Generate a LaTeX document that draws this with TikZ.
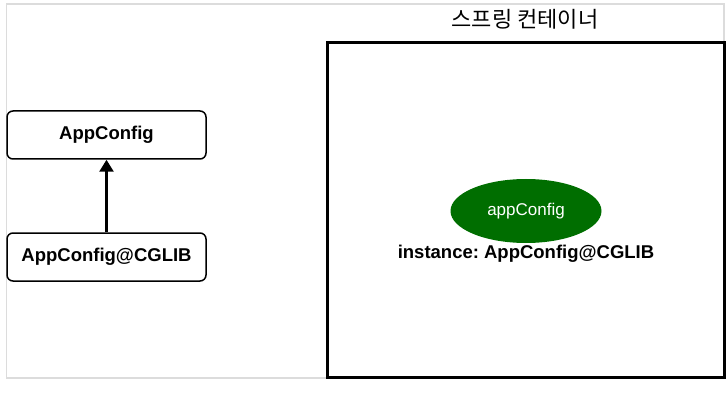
\documentclass[tikz,border=0pt]{standalone}
\usepackage{fontspec}
\setmainfont{Liberation Sans}
\newfontfamily\krfont{Noto Sans CJK KR}
\usepackage{xcolor}
\definecolor{sprgreen}{HTML}{006E00}
\definecolor{framegray}{HTML}{DCDCDC}
\usetikzlibrary{arrows.meta,positioning,shapes.geometric}
\frenchspacing

\begin{document}
\begin{tikzpicture}[x=1pt,y=-1pt,
  cls/.style={draw=black, line width=1.5pt, rounded corners=6pt, fill=white,
              minimum width=199pt, minimum height=48pt,
              font=\fontsize{18.5}{22}\selectfont\bfseries},
  bean/.style={ellipse, fill=sprgreen, text=white, minimum width=151pt,
               minimum height=64pt, inner sep=0pt,
               font=\fontsize{17}{20}\selectfont},
  arr/.style={-{Triangle[length=12pt,width=14pt]},draw=black,line width=2.6pt}
]
  \useasboundingbox (0,0) rectangle (726,409);
  %% outer frame
  \draw[framegray, line width=1.5pt] (6.5,4) rectangle (724,378);

  %% spring container
  \node[font=\krfont\fontsize{22}{26}\selectfont] (title) at (525,19) {스프링 컨테이너};
  \draw[black, line width=3pt] (327.5,43) rectangle (724.5,377);

  %% classes
  \node[cls] (cfg)   at (106.5,135) {AppConfig};
  \node[cls] (cglib) at (106.5,257) {AppConfig@CGLIB};
  \draw[arr] (cglib) -- (cfg);

  %% bean
  \node[bean] (appcfg) at (526,211) {appConfig};
  \node[font=\fontsize{18.5}{22}\selectfont\bfseries] (inst) at (526,254)
    {instance: AppConfig@CGLIB};
\end{tikzpicture}
\end{document}
